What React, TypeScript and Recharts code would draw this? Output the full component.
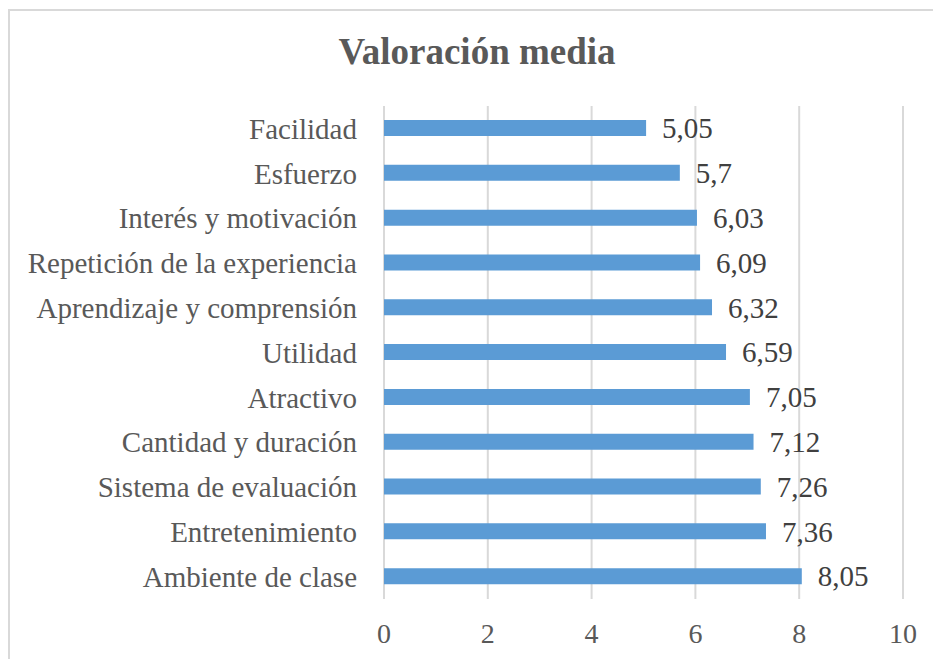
import React from "react"
import { BarChart, Bar, XAxis, YAxis, CartesianGrid, LabelList } from "recharts"

const categories = [
  "Facilidad",
  "Esfuerzo",
  "Interés y motivación",
  "Repetición de la experiencia",
  "Aprendizaje y comprensión",
  "Utilidad",
  "Atractivo",
  "Cantidad y duración",
  "Sistema de evaluación",
  "Entretenimiento",
  "Ambiente de clase",
]

const valores = [5.05, 5.7, 6.03, 6.09, 6.32, 6.59, 7.05, 7.12, 7.26, 7.36, 8.05]

const xTicks = [0, 2, 4, 6, 8, 10]

const chartData = categories.map((name, i) => ({ name, valor: valores[i] }))

const fontFamily = "Liberation Serif, DejaVu Serif, serif"

const formatValor = (v: any) => String(v).replace(".", ",")

export default function App() {
  return (
    <div
      style={{
        position: "absolute",
        left: 0,
        top: 0,
        width: 933,
        height: 659,
        overflow: "hidden",
        background: "#fff",
        fontFamily,
      }}
    >
      <div
        style={{
          position: "absolute",
          left: 8,
          top: 9,
          width: 936,
          height: 660,
          border: "2px solid #d9d9d9",
          boxSizing: "border-box",
        }}
      />
      <div
        style={{
          position: "absolute",
          left: 0,
          top: 27,
          width: 954,
          textAlign: "center",
          fontSize: 37,
          fontWeight: "bold",
          color: "#595959",
          lineHeight: "50px",
        }}
      >
        Valoración media
      </div>
      <div style={{ position: "absolute", left: 0, top: 0 }}>
        <BarChart
          width={933}
          height={659}
          data={chartData}
          layout="vertical"
          margin={{ top: 106, right: 30, left: 0, bottom: 0 }}
        >
          <CartesianGrid horizontal={false} stroke="#d9d9d9" strokeWidth={2} />
          <XAxis
            type="number"
            domain={[0, 10]}
            ticks={xTicks}
            axisLine={false}
            tickLine={false}
            tickSize={0}
            tickMargin={24}
            height={60}
            tick={{ fill: "#595959", fontSize: 28, fontFamily }}
          />
          <YAxis
            type="category"
            dataKey="name"
            width={384}
            axisLine={false}
            tickLine={false}
            tickSize={0}
            tickMargin={27}
            interval={0}
            tick={{ fill: "#595959", fontSize: 29, fontFamily }}
          />
          <Bar dataKey="valor" fill="#5b9bd5" barSize={16} isAnimationActive={false}>
            <LabelList
              dataKey="valor"
              position="right"
              offset={16}
              formatter={formatValor}
              style={{ fill: "#404040", fontSize: 29, fontFamily }}
            />
          </Bar>
        </BarChart>
      </div>
    </div>
  )
}
